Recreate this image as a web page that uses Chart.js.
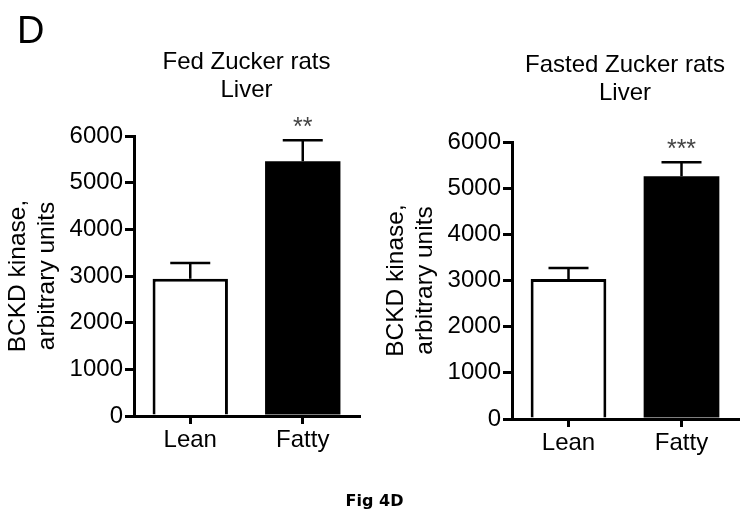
<!DOCTYPE html>
<html>
<head>
<meta charset="utf-8">
<script src="https://cdn.jsdelivr.net/npm/chart.js@4.4.1/dist/chart.umd.min.js"></script>
<style>
  body { margin: 0; background: #fff; }
  #wrap { position: relative; width: 749px; height: 520px; overflow: hidden; }
  canvas { position: absolute; top: 0; }
  #panel { position: absolute; left: 17px; top: 11px; font: 38px "Liberation Sans", Arial, sans-serif; line-height: 38px; color: #000; }
  #fig { position: absolute; left: 0; top: 493px; width: 749px; text-align: center; font: bold 16px "DejaVu Sans", Verdana, sans-serif; line-height: 16px; color: #000; }
</style>
</head>
<body>
<div id="wrap">
  <canvas id="fedChart" width="375" height="520" style="left:0"></canvas>
  <canvas id="fastedChart" width="374" height="520" style="left:375px"></canvas>
  <div id="panel">D</div>
  <div id="fig">Fig 4D</div>
</div>
<script>
// -----------------------------
// Data
// -----------------------------
const groups = ["Lean", "Fatty"];

const fedMean = [2940, 5460];
const fedErr = [340, 450];
const fedStars = ["", "**"];

const fastedMean = [3030, 5260];
const fastedErr = [240, 300];
const fastedStars = ["", "***"];

const yMin = 0;
const yMax = 6000;
const yStep = 1000;

const FONT = "'Liberation Sans', Arial, sans-serif";


// -----------------------------
// Error bars + significance stars
// -----------------------------
function errorBarPlugin(errs, stars) {
  return {
    id: "errorBars",
    afterDatasetsDraw(chart) {
      const ctx = chart.ctx;
      const meta = chart.getDatasetMeta(0);
      const y = chart.scales.y;
      const values = chart.data.datasets[0].data;

      ctx.save();
      meta.data.forEach((bar, i) => {
        const x = bar.x;
        const top = y.getPixelForValue(values[i]);
        const hi = y.getPixelForValue(values[i] + errs[i]);

        ctx.strokeStyle = "#000";
        ctx.lineWidth = 2.5;
        ctx.beginPath();
        ctx.moveTo(x, top);
        ctx.lineTo(x, hi);
        ctx.moveTo(x - 20, hi);
        ctx.lineTo(x + 20, hi);
        ctx.stroke();

        if (stars[i]) {
          ctx.fillStyle = "#444";
          ctx.font = "25px " + FONT;
          ctx.textAlign = "center";
          ctx.textBaseline = "alphabetic";
          ctx.fillText(stars[i], x, hi - 5);
        }
      });
      ctx.restore();
    }
  };
}


// -----------------------------
// One bar panel
// -----------------------------
function makeChart(id, title, means, errs, stars, box) {

  return new Chart(document.getElementById(id).getContext("2d"), {
    type: "bar",
    data: {
      labels: groups,
      datasets: [{
        data: means,
        backgroundColor: ["#fff", "#000"],
        borderColor: "#000",
        borderWidth: [3, 0],
        barPercentage: 0.67,
        categoryPercentage: 1.0
      }]
    },
    options: {
      responsive: false,
      animation: false,
      layout: { padding: { left: 0, right: box.padRight, top: 0, bottom: 0 } },
      plugins: {
        legend: { display: false },
        tooltip: { enabled: false },
        title: {
          display: true,
          fullSize: false,   // centre over the plot, not the canvas
          text: title,
          color: "#000",
          font: { family: FONT, size: 24, weight: "normal", lineHeight: 1.167 },
          padding: { top: box.titleTop, bottom: box.titleBottom }
        }
      },
      scales: {
        x: {
          grid: {
            offset: false,
            drawOnChartArea: false,
            drawTicks: true,
            tickLength: 8,
            color: "#000",
            lineWidth: 3
          },
          border: { color: "#000", width: 3 },
          ticks: {
            color: "#000",
            font: { family: FONT, size: 24 },
            padding: 2
          },
          afterFit: s => { s.height = 520 - box.bottom; }
        },
        y: {
          min: yMin,
          max: yMax,
          grid: {
            drawOnChartArea: false,
            drawTicks: true,
            tickLength: 9,
            color: "#000",
            lineWidth: 3
          },
          border: { color: "#000", width: 3 },
          ticks: {
            stepSize: yStep,
            color: "#000",
            font: { family: FONT, size: 24 },
            padding: 2,
            callback: v => String(v)
          },
          title: {
            display: true,
            text: ["BCKD kinase,", "arbitrary units"],
            color: "#000",
            font: { family: FONT, size: 24.5, lineHeight: 1.18 },
            padding: { top: box.ytitle, bottom: 0 }
          },
          afterFit: s => { s.width = box.left; }
        }
      }
    },
    plugins: [errorBarPlugin(errs, stars)]
  });

}

makeChart("fedChart", ["Fed Zucker rats", "Liver"], fedMean, fedErr, fedStars,
  { left: 134, padRight: 16, bottom: 416, titleTop: 48, titleBottom: 32, ytitle: 4 });

makeChart("fastedChart", ["Fasted Zucker rats", "Liver"], fastedMean, fastedErr, fastedStars,
  { left: 137, padRight: 11, bottom: 419, titleTop: 51, titleBottom: 35, ytitle: 7 });
</script>
</body>
</html>
